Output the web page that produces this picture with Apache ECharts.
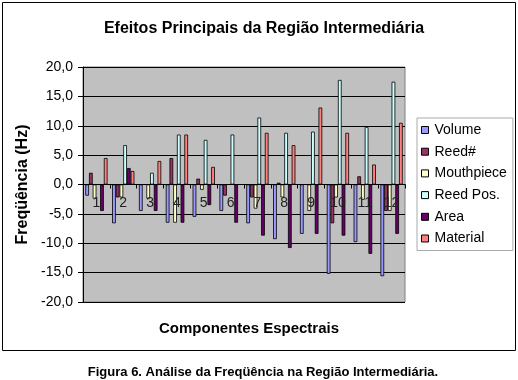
<!DOCTYPE html>
<html>
<head>
<meta charset="utf-8">
<script src="https://cdn.jsdelivr.net/npm/echarts@6/dist/echarts.min.js"></script>
<style>
  html, body { margin: 0; padding: 0; background: #fff; }
  #chart { width: 518px; height: 380px; }
</style>
</head>
<body>
<div id="chart"></div>
<script>
let chart = echarts.init(document.getElementById('chart'));

// dados
const categories = ['1', '2', '3', '4', '5', '6', '7', '8', '9', '10', '11', '12'];
const seriesNames = ['Volume', 'Reed#', 'Mouthpiece', 'Reed Pos.', 'Area', 'Material'];
const volume     = [-1.9, -6.6, -4.5, -6.5, -5.5, -4.5, -6.6, -9.3, -8.4, -15.2, -9.8, -15.6];
const reedNum    = [2.0, -2.2, 0.0, 4.5, 1.0, -1.9, -2.2, 0.3, 0.0, -6.6, 1.4, -4.5];
const mouthpiece = [-2.4, -2.2, -2.4, -6.5, -0.9, 0.0, -4.1, -2.2, -4.5, -2.2, -2.6, -4.5];
const reedPos    = [0.0, 6.7, 2.0, 8.5, 7.6, 8.5, 11.4, 8.8, 9.0, 17.8, 9.8, 17.5];
const area       = [-4.5, 2.8, -4.5, -6.5, -3.5, -6.5, -8.7, -10.8, -8.4, -8.7, -11.8, -8.4];
const material   = [4.5, 2.3, 4.0, 8.5, 3.0, 0.0, 8.8, 6.7, 13.1, 8.8, 3.4, 10.5];
const colors = ['#9999FF', '#993366', '#FFFFCC', '#CCFFFF', '#660066', '#FF8080'];

const allData = [volume, reedNum, mouthpiece, reedPos, area, material];
const font = 'Liberation Sans';

// grade: topo 67, altura 235 -> zero no meio
const gridTop = 67, gridBottom = 78, gridH = 380 - gridTop - gridBottom;

let option = {
    animation: false,
    color: colors,
    title: [
        {
            text: 'Efeitos Principais da Região Intermediária',
            left: 259, top: 16, textAlign: 'center',
            textStyle: {fontFamily: font, fontSize: 16, fontWeight: 'bold', color: '#000'}
        },
        {
            text: 'Componentes Espectrais',
            left: 244, top: 316, textAlign: 'center',
            textStyle: {fontFamily: font, fontSize: 15, fontWeight: 'bold', color: '#000'}
        },
        {
            text: 'Figura 6. Análise da Freqüência na Região Intermediária.',
            left: 258, top: 361, textAlign: 'center',
            textStyle: {fontFamily: font, fontSize: 13, fontWeight: 'bold', color: '#000'}
        }
    ],
    graphic: [
        {
            type: 'rect',
            shape: {x: 2.5, y: 2.5, width: 513, height: 348},
            style: {fill: 'none', stroke: '#000', lineWidth: 1},
            silent: true
        }
    ],
    legend: {
        orient: 'vertical',
        left: 417, top: 118,
        padding: [5, 6, 5, 4],
        itemGap: 7.7,
        itemWidth: 7, itemHeight: 7,
        icon: 'rect',
        borderColor: '#aaa', borderWidth: 1,
        itemStyle: {borderColor: '#000', borderWidth: 1},
        textStyle: {fontFamily: font, fontSize: 14, color: '#000', lineHeight: 14, padding: [0, 0, 0, 1]},
        data: seriesNames
    },
    grid: {
        left: 83, right: 113, top: gridTop, bottom: gridBottom,
        show: true,
        backgroundColor: '#C0C0C0',
        borderColor: '#808080', borderWidth: 1
    },
    xAxis: {
        type: 'category',
        data: categories,
        position: 'bottom',
        offset: -gridH / 2,
        z: 5,
        axisLine: {onZero: false, lineStyle: {color: '#000', width: 1}},
        axisTick: {show: true, length: 4, lineStyle: {color: '#000'}},
        axisLabel: {fontFamily: font, fontSize: 14, color: '#222', margin: 12},
        splitLine: {show: false}
    },
    yAxis: {
        type: 'value',
        min: -20, max: 20, interval: 5,
        name: 'Freqüência (Hz)',
        nameLocation: 'middle',
        nameGap: 47,
        nameTextStyle: {fontFamily: font, fontSize: 16, fontWeight: 'bold', color: '#000'},
        axisLine: {show: true, lineStyle: {color: '#000'}},
        axisTick: {show: true, length: 5, lineStyle: {color: '#000'}},
        axisLabel: {
            fontFamily: font, fontSize: 14, color: '#000', margin: 10,
            formatter: v => v.toFixed(1).replace('.', ',')
        },
        splitLine: {show: true, lineStyle: {color: '#000', width: 1}}
    },
    series: seriesNames.map((name, i) => ({
        name: name,
        type: 'bar',
        data: allData[i],
        barGap: '0%',
        barCategoryGap: '17%',
        itemStyle: {borderColor: '#000', borderWidth: 0.8}
    }))
};

chart.setOption(option);
</script>
</body>
</html>
